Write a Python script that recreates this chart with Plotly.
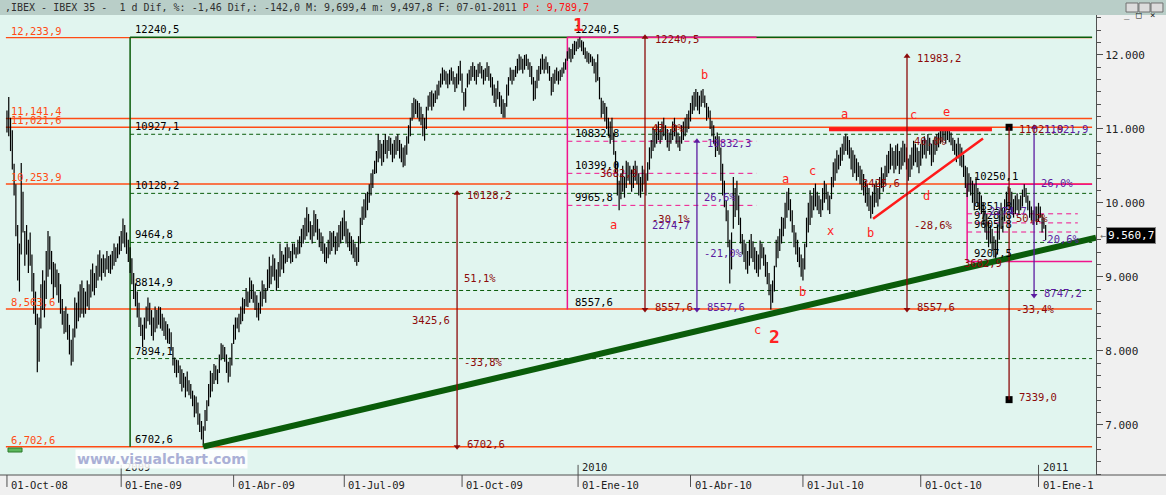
import plotly.graph_objects as go

# ── Theme constants ────────────────────────────────────────────────────────────
PLOT_BG  = "#e1f5ef"
PANEL_BG = "#f0f0f0"
TITLE_BG = "#b9cec8"
ORANGE   = "#ff4b14"
DKGREEN  = "#0a5c0a"
MAGENTA  = "#f0148c"
DKRED    = "#8c0a0a"
PURPLE   = "#5c1ca0"
RED      = "#ff2222"
AXIS     = "#505050"
TEXT     = "#222222"
MONO     = "DejaVu Sans Mono, monospace"

# ── Data: IBEX 35 daily bars, Oct-2008 .. 07-Jan-2011 ──────────────────────────
month_days = [23, 20, 21, 21, 20, 22, 20, 20, 22, 23, 21, 22, 22, 21,
              22, 20, 20, 23, 20, 21, 22, 22, 22, 22, 21, 22, 23, 5]
date_labels = ["01-Oct-08", "01-Ene-09", "01-Abr-09", "01-Jul-09", "01-Oct-09",
               "01-Ene-10", "01-Abr-10", "01-Jul-10", "01-Oct-10", "01-Ene-1"]
year_labels = {3: "2009", 15: "2010", 27: "2011"}

lows = [
    10950, 10900, 10700, 10450, 10100, 9550, 8950, 8800, 9300, 9600, 9150, 9300, 9050, 9150, 8800, 8500, 8350, 7710, 7850, 8300, 8550, 8450, 8700,  # oct-08
    9000, 9100, 8900, 8700, 8860, 8750, 8650, 8500, 8350, 8230, 8250, 8150, 7950, 7800, 7850, 8180, 8300, 8400, 8450, 8500,  # nov-08
    8450, 8500, 8600, 8550, 8720, 8800, 8750, 8850, 8950, 9000, 8950, 9050, 9000, 9100, 9050, 9040, 9100, 9150, 9200, 9250, 9300,  # dic-08
    9350, 9450, 9400, 9310, 9200, 9050, 8900, 8700, 8600, 8450, 8320, 8200, 8050, 8150, 8300, 8400, 8350, 8200, 8140, 8250, 8300,  # ene-09
    8350, 8300, 8270, 8200, 8150, 8100, 8090, 8000, 7800, 7700, 7640, 7700, 7550, 7450, 7500, 7370, 7450, 7400, 7350, 7250,  # feb-09
    7100, 7150, 7000, 6900, 6800, 6702.6, 6920, 7050, 7250, 7370, 7450, 7550, 7600, 7550, 7700, 7870, 7900, 7850, 7700, 7570, 7650, 7800,  # mar-09
    8090, 8150, 8300, 8250, 8360, 8400, 8500, 8600, 8590, 8650, 8700, 8650, 8550, 8450, 8410, 8500, 8600, 8700, 8650, 8810,  # abr-09
    8850, 8900, 9000, 8950, 8810, 8850, 9000, 9100, 9050, 9180, 9200, 9250, 9180, 9200, 9300, 9250, 9300, 9310, 9400, 9450,  # may-09
    9500, 9550, 9600, 9500, 9450, 9550, 9600, 9500, 9400, 9350, 9310, 9200, 9180, 9250, 9300, 9350, 9400, 9300, 9350, 9400, 9450, 9500,  # jun-09
    9550, 9450, 9400, 9350, 9300, 9250, 9200, 9150, 9200, 9450, 9700, 9770, 9800, 9900, 10000, 10100, 10200, 10390, 10400, 10550, 10600, 10500, 10550,  # jul-09
    10660, 10600, 10700, 10650, 10550, 10600, 10650, 10700, 10600, 10550, 10480, 10500, 10650, 10800, 10900, 11110, 11150, 11200, 11150, 11100, 11050,  # ago-09
    10900, 10840, 11000, 11250, 11300, 11250, 11300, 11350, 11400, 11450, 11560, 11600, 11650, 11600, 11550, 11600, 11650, 11600, 11500, 11550, 11600, 11650,  # sep-09
    11490, 11250, 11300, 11560, 11600, 11650, 11700, 11650, 11600, 11700, 11750, 11680, 11600, 11650, 11700, 11650, 11560, 11450, 11350, 11300, 11400, 11300,  # oct-09
    11200, 11150, 11150, 11300, 11450, 11650, 11600, 11650, 11700, 11750, 11790, 11800, 11750, 11800, 11850, 11800, 11700, 11600, 11380, 11400, 11550,  # nov-09
    11650, 11740, 11800, 11750, 11800, 11750, 11650, 11450, 11500, 11610, 11650, 11600, 11650, 11700, 11750, 11800, 11920, 11950, 11900, 11950, 12000, 12050,  # dic-09
    12080, 12100, 12050, 12000, 11950, 11900, 11880, 11900, 11850, 11750, 11630, 11650, 11400, 11150, 11200, 11100, 11000, 10900, 10800, 10850,  # ene-10
    10650, 10400, 10100, 9900, 10050, 10150, 10070, 10200, 10300, 10250, 10150, 10200, 10300, 10250, 10100, 10070, 10150, 10250, 10100, 10300,  # feb-10
    10450, 10600, 10700, 10750, 10800, 10850, 10800, 10850, 10900, 10850, 10750, 10700, 10800, 10850, 10900, 10800, 10750, 10700, 10800, 10850, 10900, 10950, 11000,  # mar-10
    11100, 11200, 11250, 11300, 11250, 11200, 11300, 11350, 11290, 11110, 11150, 11000, 10900, 10800, 10620, 10700, 10650, 10300, 10100, 9940,  # abr-10
    9750, 9400, 8910, 9100, 9650, 9810, 9900, 9700, 9450, 9300, 9200, 9100, 9040, 9150, 9250, 9200, 9100, 9050, 9000, 9100, 9250,  # may-10
    9150, 9000, 8900, 8750, 8557.6, 8650, 8800, 9130, 9250, 9350, 9450, 9550, 9650, 9800, 9900, 9750, 9600, 9400, 9300, 9200, 9130, 9000,  # jun-10
    8950, 9100, 9400, 9600, 9700, 9800, 9900, 9950, 9900, 9850, 9810, 9900, 10000, 10050, 9900, 9850, 10050, 10210, 10300, 10400, 10450, 10500,  # jul-10
    10570, 10650, 10700, 10650, 10600, 10450, 10350, 10400, 10300, 10350, 10250, 10170, 10100, 10000, 9950, 9890, 9790, 9850, 9940, 10000, 9950, 10050,  # ago-10
    10200, 10150, 10250, 10350, 10400, 10450, 10500, 10400, 10450, 10500, 10390, 10450, 10500, 10550, 10450, 10300, 10350, 10450, 10500, 10550, 10480, 10400,  # sep-10
    10500, 10600, 10650, 10600, 10700, 10650, 10500, 10550, 10650, 10700, 10750, 10800, 10820, 10850, 10800, 10850, 10820, 10780, 10700, 10650, 10550,  # oct-10
    10600, 10500, 10480, 10350, 10200, 10080, 10150, 10100, 10000, 9900, 10000, 9950, 9900, 9850, 9700, 9600, 9500, 9400, 9450, 9350, 9260, 9207.5,  # nov-10
    9300, 9500, 9650, 9600, 9750, 9900, 9950, 9900, 9850, 9800, 9850, 9900, 9850, 9900, 9950, 10080, 10000, 9900, 9800, 9760, 9700, 9750, 9700,  # dic-10
    9750, 9800, 9600, 9650, 9497.8,  # ene-11
]
highs = [
    11250, 11430, 11150, 10980, 10530, 10250, 9700, 9450, 10540, 10150, 9620, 9700, 9500, 9600, 9300, 9050, 8800, 8500, 8450, 8900, 9090, 8950, 9350,
    9620, 9550, 9350, 9200, 9180, 9100, 9050, 8900, 8700, 8540, 8600, 8500, 8350, 8150, 8300, 8720, 8650, 8800, 8900, 8950,
    8850, 8800, 8950, 8900, 9100, 9180, 9050, 9150, 9300, 9360, 9250, 9300, 9250, 9350, 9280, 9300, 9350, 9450, 9400, 9450, 9550,
    9620, 9790, 9700, 9600, 9500, 9400, 9250, 9050, 8910, 8800, 8650, 8450, 8350, 8450, 8600, 8720, 8650, 8550, 8450, 8600, 8550,
    8600, 8590, 8500, 8450, 8400, 8360, 8300, 8250, 8050, 7910, 7880, 7870, 7800, 7750, 7700, 7650, 7720, 7600, 7550, 7460,
    7400, 7380, 7300, 7150, 7050, 6980, 7200, 7330, 7550, 7730, 7700, 7820, 7800, 7750, 7950, 8100, 8080, 8050, 7950, 7850, 7910, 8100,
    8350, 8450, 8450, 8500, 8600, 8720, 8700, 8850, 8800, 8990, 8950, 8900, 8800, 8750, 8650, 8800, 8950, 8900, 8850, 9100,
    9270, 9150, 9300, 9250, 9100, 9200, 9450, 9350, 9300, 9400, 9450, 9400, 9350, 9450, 9450, 9400, 9500, 9550, 9650, 9700,
    9800, 9940, 9850, 9750, 9700, 9900, 9850, 9780, 9650, 9600, 9550, 9450, 9400, 9500, 9620, 9600, 9620, 9550, 9600, 9700, 9750, 9800,
    9900, 9750, 9650, 9600, 9550, 9500, 9450, 9400, 9550, 9800, 9950, 10050, 10130, 10150, 10250, 10400, 10450, 10570, 10700, 10930, 10850, 10800, 10850,
    10930, 10850, 10900, 10880, 10800, 10850, 10900, 10930, 10850, 10800, 10750, 10780, 10900, 11050, 11150, 11350, 11420, 11400, 11380, 11350, 11300,
    11200, 11150, 11300, 11450, 11500, 11520, 11480, 11520, 11600, 11650, 11750, 11830, 11800, 11780, 11750, 11800, 11830, 11780, 11700, 11750, 11850, 11920,
    11750, 11500, 11550, 11750, 11800, 11850, 11900, 11850, 11800, 11880, 11900, 11850, 11800, 11820, 11900, 11850, 11750, 11700, 11600, 11550, 11650, 11500,
    11450, 11400, 11350, 11600, 11700, 11830, 11800, 11800, 11850, 11950, 12010, 11980, 11950, 12000, 12010, 11950, 11900, 11850, 11700, 11650, 11800,
    11850, 11950, 12010, 11950, 11980, 11900, 11850, 11700, 11750, 11800, 11830, 11780, 11800, 11830, 11900, 11950, 12050, 12100, 12080, 12150, 12190, 12180,
    12220, 12240.5, 12200, 12180, 12100, 12050, 12030, 12010, 11980, 11950, 11900, 12010, 11700, 11420, 11380, 11350, 11300, 11150, 11100, 11150,
    10950, 10700, 10550, 10300, 10400, 10500, 10350, 10570, 10550, 10500, 10450, 10500, 10570, 10500, 10400, 10350, 10500, 10450, 10400, 10550,
    10750, 10850, 11020, 11000, 11050, 11100, 11000, 11100, 11150, 11050, 11000, 10950, 11000, 11100, 11150, 11050, 10950, 10900, 11050, 11100, 11150, 11200, 11250,
    11350, 11450, 11500, 11540, 11500, 11450, 11520, 11540, 11450, 11350, 11300, 11250, 11110, 11050, 10900, 10950, 10900, 10750, 10530, 10300,
    10030, 9900, 9500, 9600, 10350, 10200, 10300, 10100, 9800, 9580, 9500, 9450, 9350, 9500, 9580, 9480, 9400, 9350, 9300, 9490, 9450,
    9400, 9300, 9200, 9050, 8900, 8950, 9150, 9500, 9550, 9650, 9810, 9800, 10000, 10150, 10200, 10050, 9900, 9700, 9600, 9500, 9400, 9300,
    9250, 9450, 9800, 10000, 10170, 10100, 10200, 10260, 10150, 10100, 10050, 10200, 10300, 10250, 10150, 10100, 10350, 10550, 10600, 10710, 10650, 10750,
    10800, 10900, 10935, 10900, 10850, 10750, 10710, 10650, 10600, 10550, 10500, 10450, 10390, 10300, 10250, 10200, 10100, 10150, 10250, 10300, 10200, 10350,
    10480, 10400, 10500, 10650, 10700, 10800, 10750, 10700, 10780, 10800, 10700, 10750, 10840, 10800, 10750, 10600, 10650, 10750, 10840, 10800, 10750, 10700,
    10800, 10850, 10900, 10850, 10930, 10880, 10800, 10850, 10900, 10930, 10950, 10980, 10990, 11000, 10980, 11000, 10980, 10950, 10880, 10850, 10800,
    10880, 10800, 10750, 10650, 10500, 10480, 10400, 10350, 10300, 10250, 10350, 10200, 10150, 10100, 10000, 9900, 9850, 9750, 9700, 9650, 9550, 9500,
    9700, 9900, 10000, 9900, 10050, 10150, 10220, 10200, 10150, 10050, 10100, 10130, 10050, 10100, 10180, 10250.1, 10200, 10100, 10030, 9950, 9900, 9950, 9950,
    10000, 9950, 9850, 9800, 9699.4,
]
last_price = 9560.7

# price levels drawn on the chart
orange_levels = [12233.9, 11141.4, 11021.6, 10253.9, 8563.6, 6702.6]
green_levels  = [12240.5, 10927.1, 10128.2, 9464.8, 8814.9, 7894.1, 6702.6]
box1_levels   = [12240.5, 10832.8, 10399.0, 9965.8, 8557.6]
box2_levels   = [10250.1, 9851.8, 9728.8, 9605.8, 9207.5]
arrow_top     = [10128.2, 12240.5, 10832.3, 11983.2, 11021.9, 11021.9]
arrow_bottom  = [6702.6, 8557.6, 8557.6, 8557.6, 7339.0, 8747.2]
trend_from    = (110, 6702.6)
trend_to      = (610.2, 9530.0)

# ── Layout helpers (bar-index anchors) ─────────────────────────────────────────
X_MIN, X_MAX, X_END = -3.9, 610.2, 608
GREEN_X, BOX1_X, BOX1_END, BOX2_X = 69, 314, 420, 538
arrow_x     = [252.2, 357.5, 386.6, 504.3, 561.5, 575.5]
arrow_color = [DKRED, DKRED, PURPLE, DKRED, DKRED, PURPLE]
arrow_ends  = ["triangle", "triangle", "triangle", "triangle", "square", "triangle"]

wave_labels = [("a", 339.6, 9695), ("b", 391.1, 11724), ("c", 420.3, 8275),
               ("a", 436.0, 10318), ("b", 446.0, 8789), ("c", 451.1, 10426),
               ("x", 461.2, 9614), ("a", 469.0, 11197), ("b", 484.1, 9587),
               ("c", 507.7, 11183), ("d", 515.5, 10088), ("e", 526.7, 11224)]


def num(v):
    return f"{v:.1f}".replace(".", ",")


def euro(v):
    return f"{v:,.1f}".replace(",", "_").replace(".", ",").replace("_", ".")


fig = go.Figure()
shapes = []


def seg(x0, y0, x1, y1, color, width=1.3, dash=None, layer="below"):
    shapes.append(dict(type="line", xref="x", yref="y", x0=x0, y0=y0, x1=x1, y1=y1,
                       layer=layer, line=dict(color=color, width=width, dash=dash)))


def label(x, y, text, color, xanchor="left", xshift=0, yshift=0, size=10.5, xref="x", **kw):
    fig.add_annotation(x=x, y=y, xref=xref, yref="y", text=text, showarrow=False,
                       xanchor=xanchor, yanchor="middle", xshift=xshift, yshift=yshift,
                       font=dict(family=MONO, size=size, color=color), **kw)


# ── Level lines ────────────────────────────────────────────────────────────────
for v in green_levels[1:-1]:
    seg(GREEN_X, v, X_END, v, DKGREEN, 1, "4px,3px")
for v in orange_levels:
    seg(-0.6, v, X_END, v, ORANGE, 1.4)
    label(0, v, f"{v:,.1f}".replace(".", ","), ORANGE, xref="paper", xshift=9, yshift=7)
seg(GREEN_X, green_levels[0], X_END, green_levels[0], DKGREEN, 1.5)
seg(GREEN_X, green_levels[0], GREEN_X, green_levels[-1], DKGREEN, 1.5)
for v in green_levels:
    label(GREEN_X, v, num(v), "#000000", xshift=3, yshift=8)

seg(BOX1_X, box1_levels[0], BOX1_END, box1_levels[0], MAGENTA, 1.5)
seg(BOX1_X, box1_levels[0], BOX1_X, box1_levels[-1], MAGENTA, 1.5)
for v in box1_levels[1:-1]:
    seg(BOX1_X, v, BOX1_END, v, MAGENTA, 1, "5px,4px")
for v in box1_levels:
    label(BOX1_X, v, num(v), "#000000", xshift=6, yshift=8)

seg(BOX2_X, box2_levels[0], X_END, box2_levels[0], MAGENTA, 1.5)
seg(BOX2_X, box2_levels[-1], X_END, box2_levels[-1], MAGENTA, 1.5)
seg(BOX2_X, box2_levels[0], BOX2_X, box2_levels[-1], MAGENTA, 1.5)
for v in box2_levels[1:-1]:
    seg(BOX2_X, v, 600, v, MAGENTA, 1, "5px,4px")
for v in box2_levels:
    label(BOX2_X, v, num(v), "#000000", xshift=5, yshift=8)

# ── Price bars (high-low) ──────────────────────────────────────────────────────
n = min(len(lows), len(highs))
bar_x, bar_y = [], []
for i in range(n):
    bar_x += [i, i, None]
    bar_y += [lows[i], highs[i], None]
fig.add_trace(go.Scatter(x=bar_x, y=bar_y, mode="lines", hoverinfo="skip",
                         line=dict(color="#000000", width=1.2)))

# ── Trend lines and wave markers ───────────────────────────────────────────────
seg(trend_from[0], trend_from[1], trend_to[0], trend_to[1], DKGREEN, 6, layer="above")
seg(460.6, 10995, 551.9, 10995, "#ff1a1a", 4, layer="above")
seg(485.3, 9785, 546.9, 10870, "#ff1a1a", 2.5, layer="above")

# ── Measuring arrows ───────────────────────────────────────────────────────────
for x, top, bot, col, end in zip(arrow_x, arrow_top, arrow_bottom, arrow_color, arrow_ends):
    d = top - bot
    seg(x, top, x, bot, col, 1.3, layer="above")
    if end == "square":
        fig.add_trace(go.Scatter(x=[x, x], y=[top, bot], mode="markers", hoverinfo="skip",
                                 marker=dict(symbol="square", size=7, color="#000000")))
    else:
        fig.add_trace(go.Scatter(x=[x, x], y=[top, bot], mode="markers", hoverinfo="skip",
                                 marker=dict(symbol=["triangle-up", "triangle-down"], size=6, color=col)))
    label(x, top, num(top), col, xshift=8, yshift=-2)
    label(x, bot, num(bot), col, xshift=8, yshift=3)
    label(x, top - d / 3, f"{d / bot * 100:.1f}%".replace(".", ","), col, xshift=5)
    label(x, top - d / 2, num(d), col, xanchor="right", xshift=-5)
    label(x, top - 2 * d / 3, f"-{d / top * 100:.1f}%".replace(".", ","), col, xshift=5)

for txt, x, y in wave_labels:
    label(x, y, txt, RED, xanchor="center", size=12)
label(320, 12240.5, "<b>1</b>", RED, xanchor="center", yshift=13, size=18)
label(430.3, 8557.6, "<b>2</b>", RED, xanchor="center", yshift=-27, size=18)

# ── Date axis (custom ticks) ───────────────────────────────────────────────────
month_start, acc = [], 0
for d in month_days:
    month_start.append(acc)
    acc += d
for lab, m in zip(date_labels, range(0, len(month_days), 3)):
    xi = month_start[m]
    shapes.append(dict(type="line", xref="x", yref="paper", x0=xi, x1=xi, y0=0, y1=-0.026,
                       line=dict(color=AXIS, width=1)))
    fig.add_annotation(x=xi, y=-0.022, xref="x", yref="paper", text=lab, showarrow=False,
                       xanchor="left", yanchor="middle", xshift=2,
                       font=dict(family=MONO, size=10.5, color=TEXT))
for m, yl in year_labels.items():
    xi = month_start[m]
    shapes.append(dict(type="line", xref="x", yref="paper", x0=xi, x1=xi, y0=0, y1=0.022,
                       line=dict(color=AXIS, width=1)))
    fig.add_annotation(x=xi, y=0.018, xref="x", yref="paper", text=yl, showarrow=False,
                       xanchor="left", yanchor="middle", xshift=2,
                       font=dict(family=MONO, size=10.5, color=TEXT))
shapes.append(dict(type="line", xref="paper", yref="paper", x0=0, x1=1.064, y0=0, y1=0,
                   line=dict(color=AXIS, width=1)))

# ── Window chrome: title bar, watermark, price tag ─────────────────────────────
shapes.append(dict(type="rect", xref="paper", yref="paper", x0=0, x1=1.064, y0=1, y1=1.04,
                   fillcolor=TITLE_BG, line=dict(width=0), layer="above"))
for bx0, bx1 in [(1.0274, 1.0383), (1.0392, 1.0493), (1.0502, 1.0611)]:
    shapes.append(dict(type="rect", xref="paper", yref="paper", x0=bx0, x1=bx1, y0=1.0065, y1=1.0261,
                       fillcolor="#dcdcdc", line=dict(color="#707070", width=1), layer="above"))
for bx, sym in [(1.0328, "_"), (1.0442, "□"), (1.0556, "×")]:
    fig.add_annotation(x=bx, y=1.0163, xref="paper", yref="paper", text=sym, showarrow=False,
                       font=dict(family=MONO, size=9, color="#202020"))
fig.add_annotation(
    x=0, y=1.0163, xref="paper", yref="paper", xanchor="left", yanchor="middle", xshift=3,
    showarrow=False, font=dict(family=MONO, size=10, color="#303030"),
    text=",IBEX - IBEX 35 -  1 d Dif, %: -1,46 Dif,: -142,0 M: 9,699,4 m: 9,497,8 "
         "F: 07-01-2011 <span style='color:#ff1010'>P : 9,789,7</span>")

shapes.append(dict(type="rect", xref="paper", yref="paper", x0=0.0073, x1=0.0201, y0=0.05, y1=0.0587,
                   fillcolor="#5cb85c", line=dict(color="#2a7a2a", width=1)))
fig.add_annotation(x=0.0684, y=0.0348, xref="paper", yref="paper", xanchor="left", yanchor="middle",
                   showarrow=False, text="<b>www.visualchart.com</b>", bgcolor="rgba(255,255,255,0.85)",
                   font=dict(family="DejaVu Sans, sans-serif", size=14, color="#aab0d6"))

label(1.0018, last_price, "←", "#707070", xref="paper", size=10)
label(1.0091, last_price, euro(last_price), "#ffffff", xref="paper", size=11,
      bgcolor="#000000", bordercolor="#888888", borderwidth=1, borderpad=1)

fig.update_layout(
    width=1166, height=495, autosize=False,
    paper_bgcolor=PANEL_BG, plot_bgcolor=PLOT_BG,
    margin=dict(l=0, r=70, t=15, b=20),
    showlegend=False, separators=",.",
    shapes=shapes,
    xaxis=dict(range=[X_MIN, X_MAX], showgrid=False, zeroline=False, showticklabels=False,
               ticks="", showline=False),
    yaxis=dict(range=[6320, 12540], side="right", showgrid=False, zeroline=False,
               showline=True, linecolor=AXIS, linewidth=1,
               ticks="outside", ticklen=6, tickcolor=AXIS, tick0=7000, dtick=1000,
               tickformat=",d", tickfont=dict(family=MONO, size=11, color=TEXT),
               minor=dict(ticks="outside", ticklen=4, tickcolor=AXIS, tick0=7000, dtick=1000 / 6)),
)

fig.write_html("out.html", config={"displayModeBar": False},
               post_script="document.body.style.margin='0';document.body.style.overflow='hidden';")
